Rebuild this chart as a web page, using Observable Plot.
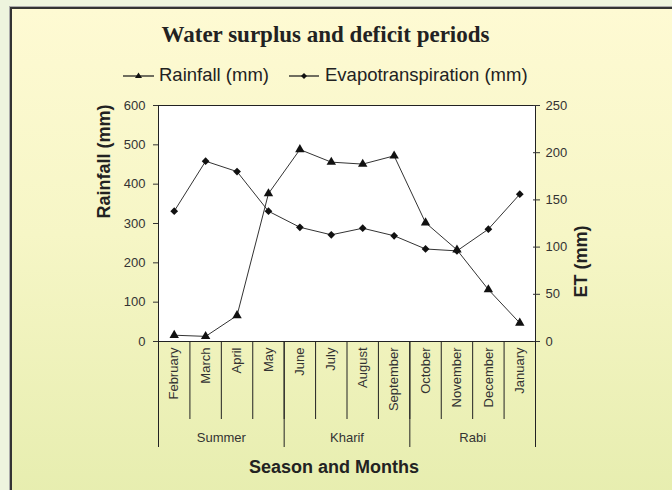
<!DOCTYPE html>
<html><head><meta charset="utf-8">
<script src="https://cdn.jsdelivr.net/npm/d3@7"></script>
<script src="https://cdn.jsdelivr.net/npm/@observablehq/plot@0.6"></script>
<style>
html,body{margin:0;padding:0;}
body{width:672px;height:490px;overflow:hidden;position:relative;background:#eef4de;font-family:"Liberation Sans",Arial,sans-serif;}
#frame{position:absolute;left:10px;top:7px;width:680px;height:500px;border-left:2px solid #333;border-top:2px solid #333;background:linear-gradient(180deg,#fefad3 0%,#f6f6c6 45%,#e6edae 100%);box-shadow:-1px -1px 0 #aaa;}
#title{position:absolute;left:0;width:651px;top:22px;text-align:center;font-family:"Liberation Serif","Times New Roman",serif;font-weight:bold;font-size:23px;line-height:26px;color:#222;}
.leg{position:absolute;top:65px;font-size:18.5px;line-height:20px;color:#222;white-space:nowrap;}
.sw{position:absolute;top:70px;}
#chart{position:absolute;left:0;top:90px;}
</style></head><body>
<div id="frame"></div>
<div id="title">Water surplus and deficit periods</div>
<svg class="sw" style="left:123px" width="31" height="12"><line x1="0" y1="6" x2="31" y2="6" stroke="#222" stroke-width="1.3"/><polygon points="15.5,2.5 19,8 12,8" fill="#111"/></svg>
<span class="leg" style="left:159px">Rainfall (mm)</span>
<svg class="sw" style="left:289px" width="30" height="12"><line x1="0" y1="6" x2="30" y2="6" stroke="#222" stroke-width="1.3"/><polygon points="15,3 18,6 15,9 12,6" fill="#111"/></svg>
<span class="leg" style="left:325px">Evapotranspiration (mm)</span>
<div id="chart"></div>
<script>
const months = ["February","March","April","May","June","July","August","September","October","November","December","January"];
const seasonOf = ["Summer","Summer","Summer","Summer","Kharif","Kharif","Kharif","Kharif","Rabi","Rabi","Rabi","Rabi"];
const seasons = ["Summer","Kharif","Rabi"];
const rainfall = [16,13,66,376,488,456,451,472,302,233,132,47];
const et = [138,191,180,138,121,113,120,112,98,96,119,156];
const rainTicks = [0,100,200,300,400,500,600];
const etTicks = [0,50,100,150,200,250];
const rainMax = 600, etMax = 250;
const k = rainMax / etMax;

const rows = months.map((m, i) => ({i, month: m, rain: rainfall[i], etScaled: et[i] * k}));
const monthEdges = d3.range(months.length + 1).map(i => i - 0.5);
const seasonEdges = monthEdges.filter((e, j) => j === 0 || j === months.length || seasonOf[j] !== seasonOf[j - 1]);
const seasonCenters = seasons.map(s => ({season: s, x: d3.mean(months.map((m, i) => i).filter(i => seasonOf[i] === s))}));

const chart = Plot.plot({
  width: 672, height: 400,
  marginTop: 15, marginBottom: 149, marginLeft: 158, marginRight: 137,
  x: {type: "linear", domain: [-0.5, months.length - 0.5], axis: null},
  y: {domain: [0, rainMax], axis: null},
  style: {fontFamily: "'Liberation Sans', Arial, sans-serif", fontSize: "13px", color: "#333", background: "transparent", overflow: "visible"},
  marks: [
    Plot.frame({fill: "white", stroke: "#222"}),
    Plot.axisY(rainTicks, {anchor: "left", tickSize: 5, tickPadding: 8, label: null, fontSize: 13}),
    Plot.axisY(etTicks.map(v => v * k), {anchor: "right", tickSize: 7, dx: -3, tickPadding: 6, tickFormat: d => Math.round(d / k), label: null, fontSize: 13}),
    Plot.line(rows, {x: "i", y: "rain", stroke: "#333", strokeWidth: 1}),
    Plot.line(rows, {x: "i", y: "etScaled", stroke: "#333", strokeWidth: 1}),
    Plot.dot(rows, {x: "i", y: "rain", symbol: "triangle", fill: "#111", stroke: "none", r: 3.5}),
    Plot.dot(rows, {x: "i", y: "etScaled", symbol: "diamond2", fill: "#111", stroke: "none", r: 3.5}),
    Plot.ruleX(monthEdges, {x: d => d, insetTop: 236, insetBottom: -78, stroke: "#222"}),
    Plot.ruleX(seasonEdges, {x: d => d, insetTop: 236, insetBottom: -106, stroke: "#222"}),
    Plot.text(months, {x: (d, i) => i, frameAnchor: "bottom", dy: 6, rotate: -90, textAnchor: "end", lineAnchor: "middle", fontSize: 13, fill: "#333", ariaLabel: "month-labels"}),
    Plot.text(seasonCenters, {x: "x", text: "season", frameAnchor: "bottom", dy: 96, lineAnchor: "middle", fontSize: 13, fill: "#333"}),
    Plot.text(["Season and Months"], {frameAnchor: "bottom", dx: -13, dy: 126, lineAnchor: "middle", fontWeight: "bold", fontSize: 18, fill: "#222"}),
    Plot.text(["Rainfall (mm)"], {frameAnchor: "left", rotate: -90, dx: -54, dy: -5, lineAnchor: "middle", fontWeight: "bold", fontSize: 18, fill: "#222", ariaLabel: "ytitle-left"}),
    Plot.text(["ET (mm)"], {frameAnchor: "right", rotate: -90, dx: 46, dy: 2, lineAnchor: "middle", fontWeight: "bold", fontSize: 18, fill: "#222", ariaLabel: "ytitle-right"})
  ]
});
document.getElementById("chart").appendChild(chart);
const svg = d3.select(chart);
svg.selectAll('g[aria-label="month-labels"] text').style("letter-spacing", "1px");
svg.selectAll('g[aria-label="ytitle-left"] text').style("letter-spacing", "2.5px");
svg.selectAll('g[aria-label="ytitle-right"] text').style("letter-spacing", "3px");
</script>
</body></html>
